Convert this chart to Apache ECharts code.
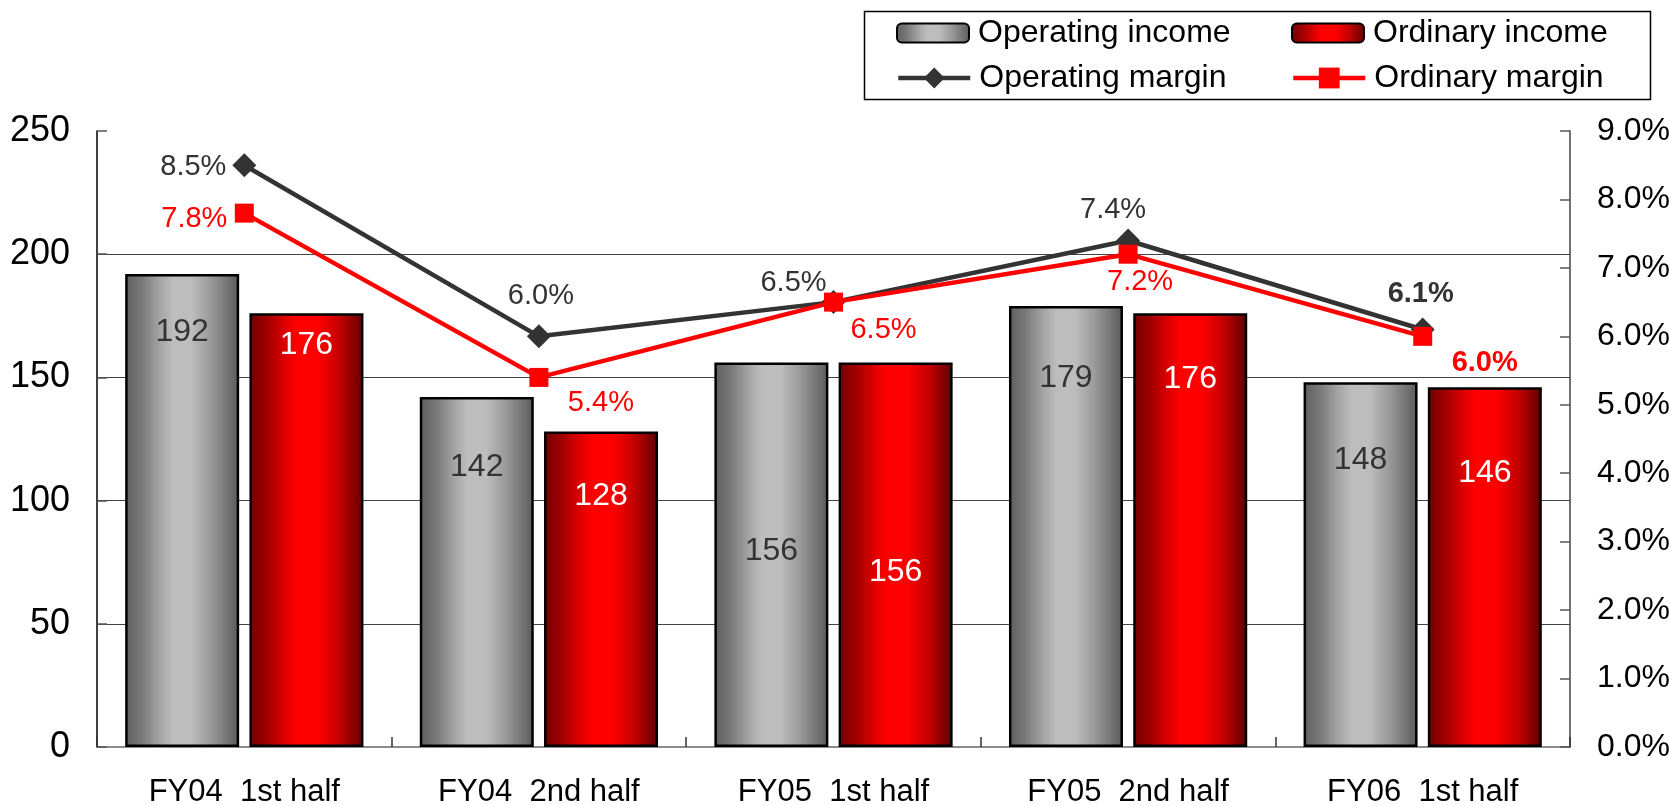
<!DOCTYPE html>
<html>
<head>
<meta charset="utf-8">
<title>Operating / Ordinary income</title>
<script src="https://cdn.jsdelivr.net/npm/echarts@6/dist/echarts.min.js"></script>
<style>
  html, body { margin: 0; padding: 0; background: #fff; }
  #main { width: 1669px; height: 806px; }
</style>
</head>
<body>
<div id="main"></div>
<script>
// data
var categories = ['FY04  1st half', 'FY04  2nd half', 'FY05  1st half', 'FY05  2nd half', 'FY06  1st half'];
var operatingIncome = [192, 142, 156, 179, 148];
var ordinaryIncome = [176, 128, 156, 176, 146];
var operatingMargin = [8.5, 6.0, 6.5, 7.4, 6.1];
var ordinaryMargin = [7.8, 5.4, 6.5, 7.2, 6.0];
var leftTicks = [0, 50, 100, 150, 200, 250];
var rightTicks = [0, 1, 2, 3, 4, 5, 6, 7, 8, 9];

// label placement (px) - as in the original, labels were moved by hand
var opIncomeLabelDy = [58, 70, 189, 72, 78];
var ordIncomeLabelDy = [32, 65, 210, 66, 86];
var opMarginLabelOffset = [[-51, 2], [2, -40], [-40, -19], [-15, -31], [-2, -35]];
var ordMarginLabelOffset = [[-50, 6], [62, 26], [50, 28], [12, 28], [62, 27]];
var boldLabel = [false, false, false, false, true];

var FONT = '"Liberation Sans", Arial, sans-serif';

var grayGrad = new echarts.graphic.LinearGradient(0, 0, 1, 0, [
  { offset: 0, color: '#5e5e5e' },
  { offset: 0.15, color: '#7a7a7a' },
  { offset: 0.3, color: '#a4a4a4' },
  { offset: 0.42, color: '#bdbdbd' },
  { offset: 0.58, color: '#bdbdbd' },
  { offset: 0.75, color: '#9a9a9a' },
  { offset: 1, color: '#5a5a5a' }
]);
var redGrad = new echarts.graphic.LinearGradient(0, 0, 1, 0, [
  { offset: 0, color: '#700000' },
  { offset: 0.15, color: '#a00000' },
  { offset: 0.32, color: '#e00000' },
  { offset: 0.42, color: '#ff0000' },
  { offset: 0.6, color: '#ff0000' },
  { offset: 0.8, color: '#c00000' },
  { offset: 1, color: '#5e0000' }
]);

function barData(values, dys, color) {
  return values.map(function (v, i) {
    return {
      value: v,
      label: {
        position: ['50%', dys[i]],
        align: 'center',
        verticalAlign: 'middle',
        color: color
      }
    };
  });
}

function lineData(values, offsets) {
  return values.map(function (v, i) {
    return {
      value: v,
      label: {
        offset: offsets[i],
        fontWeight: boldLabel[i] ? 'bold' : 'normal'
      }
    };
  });
}

function legendItem(name, left, top, h) {
  return {
    left: left,
    top: top,
    padding: 0,
    itemWidth: 72,
    itemHeight: h,
    lineStyle: { width: 4.5 },
    textStyle: { fontSize: 32, lineHeight: 32, color: '#000', fontFamily: FONT, padding: [0, 0, 0, 4] },
    data: [name]
  };
}

var myChart = echarts.init(document.getElementById('main'));
var option = {
  backgroundColor: '#fff',
  animation: false,
  textStyle: { fontFamily: FONT },
  grid: {
    left: 97,
    right: 99,
    top: 131,
    bottom: 59,
    containLabel: false,
    outerBoundsMode: 'none'
  },
  graphic: [{
    type: 'rect',
    left: 862,
    top: 9,
    shape: { width: 786, height: 88 },
    style: { fill: 'none', stroke: '#000', lineWidth: 1.5 },
    z: 10
  }],
  legend: [
    legendItem('Operating income', 896, 17, 19),
    legendItem('Ordinary income', 1291, 17, 19),
    legendItem('Operating margin', 896, 62, 26),
    legendItem('Ordinary margin', 1291, 62, 26)
  ],
  xAxis: [{
    type: 'category',
    data: categories,
    axisLine: { show: true, lineStyle: { color: '#8c8c8c', width: 2 } },
    axisTick: { show: true, inside: true, length: 10, lineStyle: { color: '#333', width: 1.5 } },
    axisLabel: { fontSize: 31, color: '#000', margin: 30, fontFamily: FONT },
    splitLine: { show: false }
  }],
  yAxis: [{
    type: 'value',
    min: leftTicks[0],
    max: leftTicks[leftTicks.length - 1],
    interval: leftTicks[1] - leftTicks[0],
    position: 'left',
    axisLine: { show: true, lineStyle: { color: '#000', width: 1.5 } },
    axisTick: { show: true, inside: true, length: 10, lineStyle: { color: '#555', width: 1.5 } },
    axisLabel: { fontSize: 36, color: '#000', margin: 27, fontFamily: FONT },
    splitLine: {
      show: true,
      lineStyle: { color: ['#444', '#444', '#444', '#444', '#444', 'rgba(0,0,0,0)'], width: 1.2 }
    }
  }, {
    type: 'value',
    min: rightTicks[0],
    max: rightTicks[rightTicks.length - 1],
    interval: rightTicks[1] - rightTicks[0],
    position: 'right',
    axisLine: { show: true, lineStyle: { color: '#444', width: 1.5 } },
    axisTick: { show: true, inside: true, length: 10, lineStyle: { color: '#555', width: 1.5 } },
    axisLabel: {
      fontSize: 32, color: '#000', margin: 27, fontFamily: FONT,
      formatter: function (v) { return v.toFixed(1) + '%'; }
    },
    splitLine: { show: false }
  }],
  series: [{
    name: 'Operating income',
    type: 'bar',
    yAxisIndex: 0,
    barWidth: 114,
    barGap: '9%',
    itemStyle: { color: grayGrad, borderColor: '#000', borderWidth: 2.5 },
    label: { show: true, fontSize: 32, fontFamily: FONT },
    data: barData(operatingIncome, opIncomeLabelDy, '#333')
  }, {
    name: 'Ordinary income',
    type: 'bar',
    yAxisIndex: 0,
    barWidth: 114,
    barGap: '9%',
    itemStyle: { color: redGrad, borderColor: '#000', borderWidth: 2.5 },
    label: { show: true, fontSize: 32, fontFamily: FONT },
    data: barData(ordinaryIncome, ordIncomeLabelDy, '#fff')
  }, {
    name: 'Operating margin',
    type: 'line',
    yAxisIndex: 1,
    symbol: 'diamond',
    symbolSize: 24,
    z: 5,
    lineStyle: { color: '#333', width: 4.5 },
    itemStyle: { color: '#333' },
    label: {
      show: true,
      position: 'inside',
      fontSize: 29,
      color: '#333',
      fontFamily: FONT,
      formatter: function (p) { return p.value.toFixed(1) + '%'; }
    },
    data: lineData(operatingMargin, opMarginLabelOffset)
  }, {
    name: 'Ordinary margin',
    type: 'line',
    yAxisIndex: 1,
    symbol: 'rect',
    symbolSize: 19,
    z: 6,
    lineStyle: { color: '#ff0000', width: 4.5 },
    itemStyle: { color: '#ff0000' },
    label: {
      show: true,
      position: 'inside',
      fontSize: 29,
      color: '#ff0000',
      fontFamily: FONT,
      formatter: function (p) { return p.value.toFixed(1) + '%'; }
    },
    data: lineData(ordinaryMargin, ordMarginLabelOffset)
  }]
};
myChart.setOption(option);
</script>
</body>
</html>
